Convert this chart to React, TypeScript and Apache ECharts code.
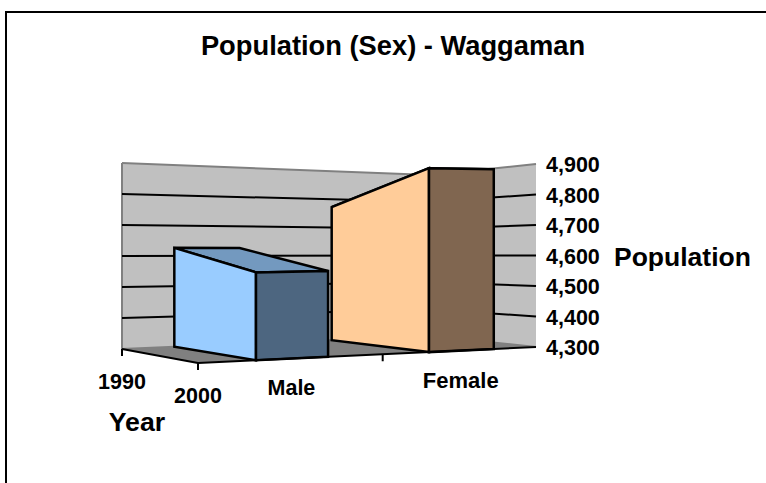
import React, { useEffect, useRef } from "react";
import * as echarts from "echarts";

const chartTitle = "Population (Sex) - Waggaman";
const valueAxisName = "Population";
const depthAxisName = "Year";
const categories = ["Male", "Female"];
const years = ["1990", "2000"];
const values1990 = [4627, 4773];
const values2000 = [4562, 4881];
const tickValues = [4300, 4400, 4500, 4600, 4700, 4800, 4900];

const FONT = "Liberation Sans";
const AXIS_MIN = 4300;
const AXIS_MAX = 4900;

// Excel-like 3D frame: floor corners in screen space, u across categories, v across years.
const A = [122, 349];
const D = [430, 336];
const C = [536, 347];
const B = [198, 363];
const HEIGHT_A = 186;
const HEIGHT_D = 161;
const HEIGHT_C = 183;
const HEIGHT_B = 205;

const sx = A[0] - D[0] + C[0] - B[0];
const sy = A[1] - D[1] + C[1] - B[1];
const dx1 = D[0] - C[0];
const dx2 = B[0] - C[0];
const dy1 = D[1] - C[1];
const dy2 = B[1] - C[1];
const det = dx1 * dy2 - dx2 * dy1;
const g = (sx * dy2 - dx2 * sy) / det;
const h = (dx1 * sy - sx * dy1) / det;
const a1 = D[0] - A[0] + g * D[0];
const b1 = B[0] - A[0] + h * B[0];
const a2 = D[1] - A[1] + g * D[1];
const b2 = B[1] - A[1] + h * B[1];

function floor(u: number, v: number): number[] {
  const w = g * u + h * v + 1;
  return [(a1 * u + b1 * v + A[0]) / w, (a2 * u + b2 * v + A[1]) / w];
}
function height(u: number, v: number): number {
  const back = 1 / HEIGHT_A + (1 / HEIGHT_D - 1 / HEIGHT_A) * u;
  const front = 1 / HEIGHT_B + (1 / HEIGHT_C - 1 / HEIGHT_B) * u;
  return 1 / (back + (front - back) * v);
}

const boxCentres = [0.2585, 0.7615];
const boxHalf = 0.1015;
const midTickU = 0.52;

function makeProjector(api: any) {
  const y0 = api.coord([0, AXIS_MIN])[1];
  const y1 = api.coord([0, AXIS_MAX])[1];
  return (u: number, v: number, value: number): number[] => {
    const t = (y0 - api.coord([0, value])[1]) / (y0 - y1);
    const p = floor(u, v);
    return [p[0], p[1] - t * height(u, v)];
  };
}

function poly(points: number[][], fill: string, stroke?: string, lineWidth = 2.5) {
  return {
    type: "polygon",
    shape: { points },
    style: { fill, stroke: stroke || "none", lineWidth, lineJoin: "miter" },
  };
}
function seg(p: number[], q: number[], stroke: string, lineWidth = 2) {
  return {
    type: "line",
    shape: { x1: p[0], y1: p[1], x2: q[0], y2: q[1] },
    style: { stroke, lineWidth },
  };
}

function renderWalls(params: any, api: any) {
  const P = makeProjector(api);
  const value = api.value(1);
  const edge = value === AXIS_MIN || value === AXIS_MAX;
  const stroke = edge ? "#808080" : "#000000";
  const children: any[] = [];
  if (params.dataIndex === 0) {
    children.push(
      poly([P(0, 0, AXIS_MIN), P(0, 0, AXIS_MAX), P(1, 0, AXIS_MAX), P(1, 0, AXIS_MIN)], "#c0c0c0"),
      poly([P(1, 0, AXIS_MIN), P(1, 0, AXIS_MAX), P(1, 1, AXIS_MAX), P(1, 1, AXIS_MIN)], "#c0c0c0"),
      poly([P(0, 0, AXIS_MIN), P(1, 0, AXIS_MIN), P(1, 1, AXIS_MIN), P(0, 1, AXIS_MIN)], "#808080"),
      seg(P(0, 0, AXIS_MIN), P(0, 0, AXIS_MAX), "#808080", 2)
    );
  }
  children.push(seg(P(0, 0, value), P(1, 0, value), stroke, 2), seg(P(1, 0, value), P(1, 1, value), stroke, 2));
  return { type: "group", children };
}

const palette = [
  { left: "#99ccff", front: "#4d6680", top: "#7399bf" },
  { left: "#ffcc99", front: "#806650", top: "#bf9973" },
];

function renderBox(params: any, api: any) {
  const P = makeProjector(api);
  const i = api.value(0);
  const vBack = api.value(1);
  const vFront = api.value(2);
  const u0 = boxCentres[i] - boxHalf;
  const u1 = boxCentres[i] + boxHalf;
  const col = palette[i];
  return {
    type: "group",
    children: [
      poly([P(u0, 0, vBack), P(u1, 0, vBack), P(u1, 1, vFront), P(u0, 1, vFront)], col.top, "#000"),
      poly([P(u0, 0, AXIS_MIN), P(u0, 0, vBack), P(u0, 1, vFront), P(u0, 1, AXIS_MIN)], col.left, "#000"),
      poly([P(u0, 1, AXIS_MIN), P(u0, 1, vFront), P(u1, 1, vFront), P(u1, 1, AXIS_MIN)], col.front, "#000"),
    ],
  };
}

function label(text: string, x: number, y: number, size: number) {
  return {
    type: "text",
    x,
    y,
    style: {
      text,
      fill: "#000",
      fontFamily: FONT,
      fontWeight: "bold",
      fontSize: size,
      align: "center",
      verticalAlign: "middle",
    },
  };
}

function renderFloorAxes(params: any, api: any) {
  const P = makeProjector(api);
  const pA = P(0, 0, AXIS_MIN);
  const pB = P(0, 1, AXIS_MIN);
  const pC = P(1, 1, AXIS_MIN);
  const pM = P(midTickU, 1, AXIS_MIN);
  const children: any[] = [
    seg(pA, pB, "#000"),
    seg(pB, pC, "#000"),
    seg(pA, [pA[0], pA[1] + 7], "#000"),
    seg(pB, [pB[0], pB[1] + 7], "#000"),
    seg(pM, [pM[0], pM[1] + 7], "#000"),
    label(years[0], pA[0], pA[1] + 33, 21.5),
    label(years[1], pB[0], pB[1] + 33, 21.5),
    label(depthAxisName, pA[0] + 15, pA[1] + 73, 26.7),
  ];
  categories.forEach((name, i) => {
    const p = P(boxCentres[i], 1, AXIS_MIN);
    children.push(label(name, p[0] - 1, p[1] + 30 - (1 - i) * 1, i === 0 ? 21.5 : 22));
  });
  return { type: "group", children };
}

export default function App() {
  const ref = useRef<HTMLDivElement>(null);
  useEffect(() => {
    const chart = echarts.init(ref.current!, undefined, { renderer: "svg" });
    chart.setOption({
      animation: false,
      backgroundColor: "#ffffff",
      title: {
        text: chartTitle,
        left: 388,
        top: 27,
        textAlign: "center",
        textStyle: { fontFamily: FONT, fontWeight: "bold", fontSize: 27.3, color: "#000" },
      },
      grid: { left: 122, right: 230, top: 165, bottom: 135 },
      xAxis: { type: "value", min: 0, max: 1, show: false },
      yAxis: {
        type: "value",
        position: "right",
        min: AXIS_MIN,
        max: AXIS_MAX,
        interval: 100,
        name: valueAxisName,
        nameLocation: "middle",
        nameRotate: 0,
        nameGap: 78,
        nameTextStyle: {
          fontFamily: FONT,
          fontWeight: "bold",
          fontSize: 26.5,
          color: "#000",
          align: "left",
          padding: [5, 0, 0, 0],
        },
        axisLine: { show: true, lineStyle: { color: "#000", width: 2 } },
        axisTick: { show: true, length: 6, lineStyle: { color: "#000", width: 2 } },
        axisLabel: {
          margin: 10,
          fontFamily: FONT,
          fontWeight: "bold",
          fontSize: 21.5,
          color: "#000",
          formatter: (v: number) => v.toLocaleString("en-US"),
        },
        splitLine: { show: false },
      },
      graphic: [
        {
          type: "polyline",
          shape: { points: [[6, 483], [6, 12], [766, 12]] },
          style: { stroke: "#000", lineWidth: 2, fill: "none" },
        },
      ],
      series: [
        {
          type: "custom",
          coordinateSystem: "cartesian2d",
          silent: true,
          renderItem: renderWalls,
          encode: { x: 0, y: 1 },
          data: tickValues.map((t) => [0, t]),
          z: 1,
        },
        {
          type: "custom",
          coordinateSystem: "cartesian2d",
          silent: true,
          renderItem: renderBox,
          encode: { x: 0, y: 1 },
          data: categories.map((_, i) => [i, values1990[i], values2000[i]]),
          z: 2,
        },
        {
          type: "custom",
          coordinateSystem: "cartesian2d",
          silent: true,
          renderItem: renderFloorAxes,
          encode: { x: 0, y: 1 },
          data: [[0, AXIS_MIN]],
          z: 3,
        },
      ],
    });
    return () => chart.dispose();
  }, []);
  return <div ref={ref} style={{ position: "fixed", left: 0, top: 0, width: 766, height: 483 }} />;
}
